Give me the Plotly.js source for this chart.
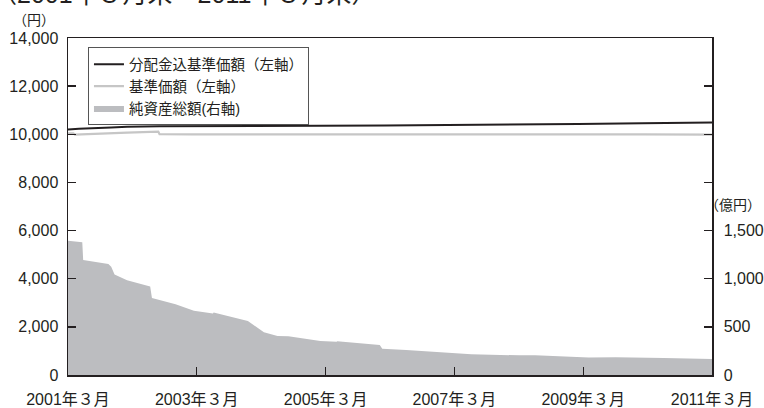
<!DOCTYPE html>
<html>
<head>
<meta charset="utf-8">
<script src="https://cdn.plot.ly/plotly-3.0.1.min.js"></script>
<style>html,body{margin:0;padding:0;background:#fff;}#chart{width:764px;height:408px;}</style>
</head>
<body>
<div id="chart"></div>
<script>
// 純資産総額（億円, 右軸）
const aumDates = ['2001-03-31','2001-06-20','2001-06-25','2001-11-15','2001-12-01','2001-12-20','2002-03-01','2002-07-10','2002-07-20','2002-12-01','2003-03-15','2003-07-01','2003-07-05','2003-12-01','2004-01-15','2004-04-15','2004-07-01','2004-09-01','2004-11-01','2005-03-01','2005-06-01','2005-06-05','2006-02-01','2006-02-15','2006-07-01','2007-05-01','2007-07-01','2007-07-05','2008-04-01','2008-07-01','2009-05-01','2009-10-01','2010-07-01','2011-03-31'];
const aumValues = [1395,1378,1194,1153,1125,1045,985,920,800,735,668,640,648,585,560,445,405,402,388,353,345,350,312,272,260,225,211,216,204,204,183,184,177,166];

// 分配金込基準価額（円, 左軸）
const navDivDates = ['2001-03-31','2001-06-01','2001-12-01','2002-03-01','2002-09-01','2003-03-01','2005-03-01','2006-03-01','2007-03-01','2008-03-01','2009-03-01','2010-03-01','2011-03-31'];
const navDivValues = [10200,10230,10280,10310,10330,10340,10350,10360,10375,10400,10430,10460,10490];

// 基準価額（円, 左軸）
const navDates = ['2001-03-31','2001-04-30','2001-05-10','2001-07-01','2001-12-01','2002-03-01','2002-08-25','2002-09-01','2003-03-01','2004-03-01','2005-03-01','2006-03-01','2007-03-01','2008-03-01','2009-03-01','2010-03-01','2011-03-31'];
const navValues = [10040,10040,9985,9995,10040,10070,10110,10005,9995,10000,10000,9995,10000,10005,9995,9995,9985];

const xTickVals = ['2001-03-31','2003-03-31','2005-03-31','2007-03-31','2009-03-31','2011-03-31'];
const xTickText = ['2001年３月','2003年３月','2005年３月','2007年３月','2009年３月','2011年３月'];
const leftTicks = [0,2000,4000,6000,8000,10000,12000,14000];
const rightTicks = [0,500,1000,1500,2000,2500,3000,3500];
const rightTickText = ['0','500','1,000','1,500','','','',''];

const FONT = 'Liberation Sans, Arial, "Noto Sans CJK JP", sans-serif';

const data = [
  {x: aumDates, y: aumValues, yaxis: 'y2', type: 'scatter', mode: 'lines',
   line: {width: 0, color: '#bcbdc0'}, fill: 'tozeroy', fillcolor: '#bcbdc0',
   name: '純資産総額(右軸)', legendrank: 3},
  {x: navDates, y: navValues, type: 'scatter', mode: 'lines',
   line: {width: 2.2, color: '#c6c6c6'}, name: '基準価額（左軸）', legendrank: 2},
  {x: navDivDates, y: navDivValues, type: 'scatter', mode: 'lines',
   line: {width: 2, color: '#231f20'}, name: '分配金込基準価額（左軸）', legendrank: 1}
];

const layout = {
  width: 764, height: 408,
  margin: {l: 68, r: 52, t: 38, b: 33},
  paper_bgcolor: '#fff', plot_bgcolor: '#fff',
  font: {family: FONT, size: 16, color: '#231f20'},
  showlegend: true,
  legend: {x: 0.031, y: 0.972, xanchor: 'left', yanchor: 'top',
    bordercolor: '#555', borderwidth: 1, bgcolor: '#fff',
    font: {size: 14.5, family: FONT}, tracegroupgap: 0, itemwidth: 30,
    traceorder: 'normal'},
  xaxis: {type: 'date', range: ['2001-03-31','2011-03-31'],
    tickvals: xTickVals, ticktext: xTickText,
    ticks: 'inside', ticklen: 8, tickwidth: 1.3, tickcolor: '#231f20',
    showline: true, linecolor: '#231f20', linewidth: 1.5, mirror: true,
    showgrid: false, zeroline: false, ticklabelstandoff: 9,
    tickfont: {size: 16}},
  yaxis: {range: [0, 14000], tickvals: leftTicks, tickformat: ',d',
    ticks: 'inside', ticklen: 8, tickwidth: 1.3, tickcolor: '#231f20',
    showline: true, linecolor: '#231f20', linewidth: 1.5,
    showgrid: false, zeroline: false, ticklabelstandoff: 5,
    tickfont: {size: 16}},
  yaxis2: {range: [0, 3500], overlaying: 'y', side: 'right',
    tickvals: rightTicks, ticktext: rightTickText,
    ticks: 'inside', ticklen: 8, tickwidth: 1.3, tickcolor: '#231f20',
    showline: true, linecolor: '#231f20', linewidth: 1.5,
    showgrid: false, zeroline: false, ticklabelstandoff: 7,
    tickfont: {size: 16}},
  annotations: [
    {text: '（2001年３月末～2011年３月末）', xref: 'paper', yref: 'paper', x: 0, y: 1,
     xanchor: 'left', yanchor: 'middle', xshift: -78, yshift: 44, showarrow: false,
     font: {size: 25, family: FONT}},
    {text: '（円）', xref: 'paper', yref: 'paper', x: 0, y: 1, xanchor: 'center', yanchor: 'middle',
     xshift: -34, yshift: 18, showarrow: false, font: {size: 14, family: FONT}},
    {text: '（億円）', xref: 'paper', yref: 'paper', x: 1, y: 0.504, xanchor: 'right', yanchor: 'middle',
     xshift: 51, showarrow: false, font: {size: 14, family: FONT}}
  ]
};

Plotly.newPlot('chart', data, layout, {staticPlot: true, displayModeBar: false});
</script>
</body>
</html>
